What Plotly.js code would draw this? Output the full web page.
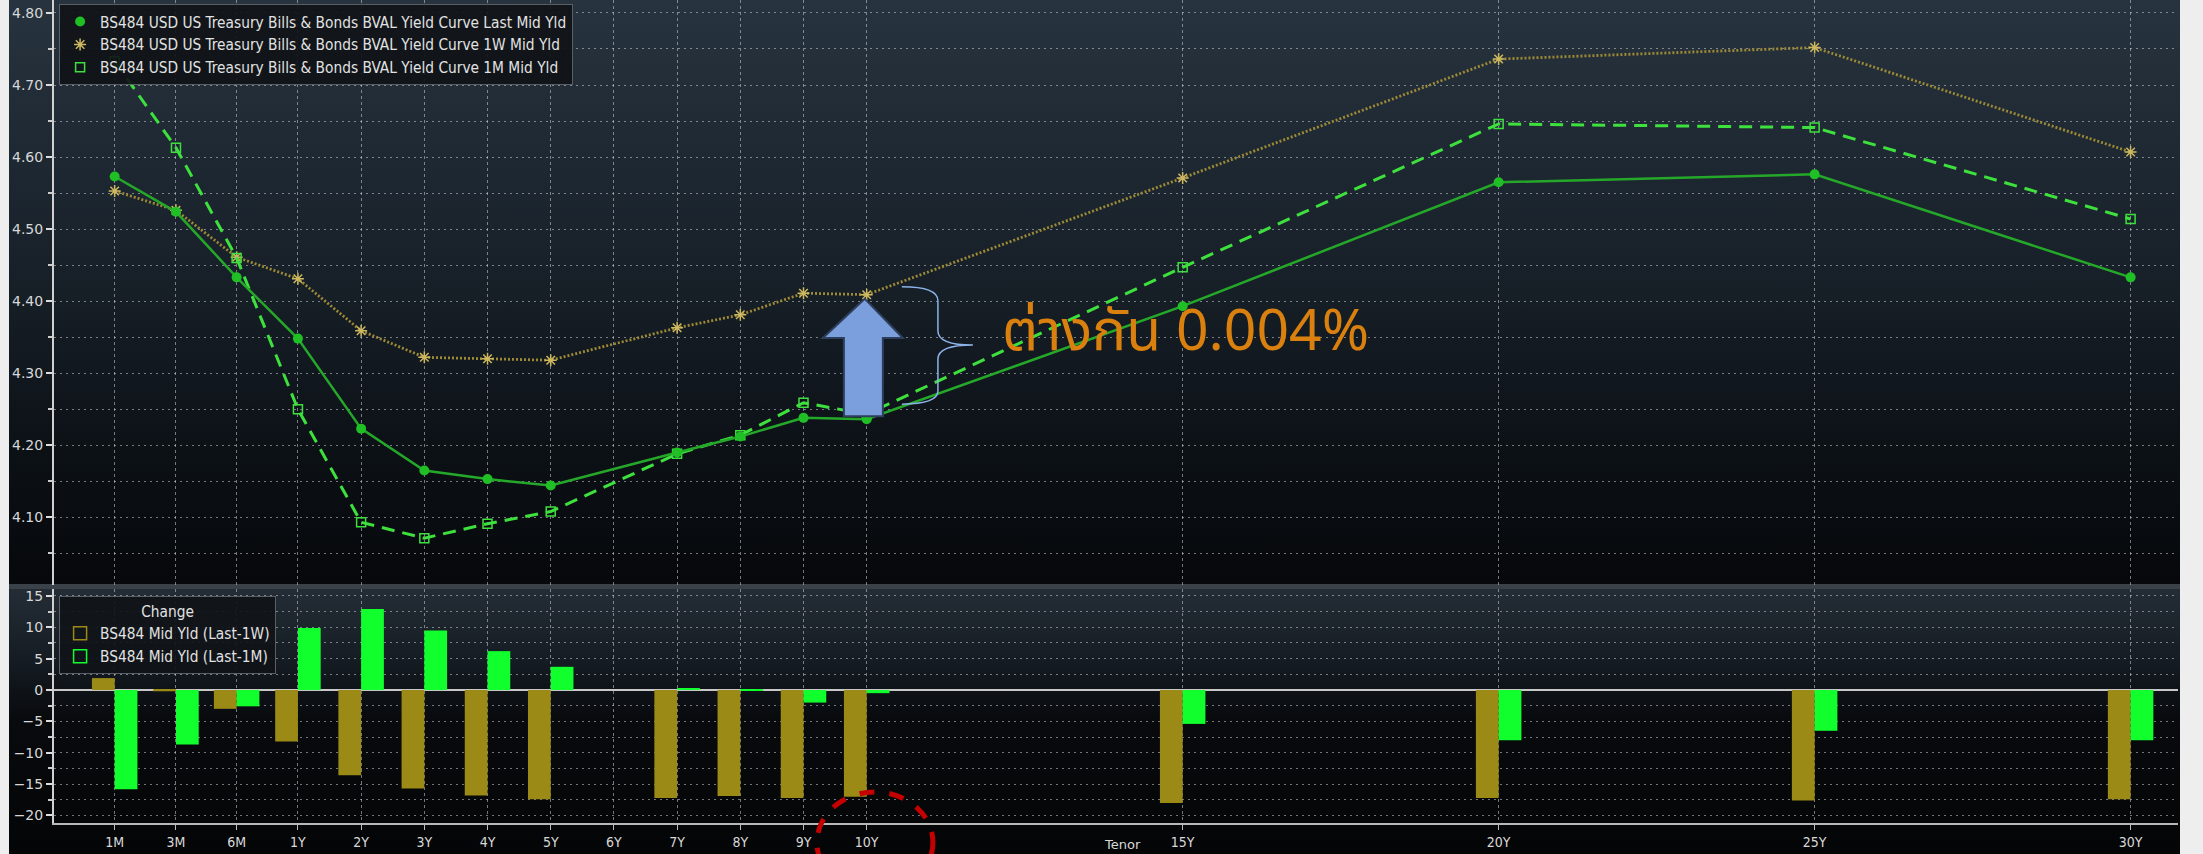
<!DOCTYPE html>
<html>
<head>
<meta charset="utf-8">
<script src="https://cdn.plot.ly/plotly-3.0.1.min.js"></script>
<style>
  html, body { margin:0; padding:0; width:2203px; height:854px; overflow:hidden; background:#eeeeee; }
  #bg { position:absolute; left:9px; top:0; width:2171px; height:854px;
        background: linear-gradient(to bottom,
          #27333e 0px, #19222b 250px, #0c1116 450px, #06080b 584px,
          #3a4149 584px, #3a4149 589px,
          #242d36 589px, #151c23 660px, #080a0d 720px, #040506 854px); }
  #chart { position:absolute; left:0; top:0; width:2203px; height:854px; }
</style>
</head>
<body>
<div id="bg"></div>
<div id="chart"></div>
<script>
// ---- data ----
const tenors   = ['1M','3M','6M','1Y','2Y','3Y','4Y','5Y','7Y','8Y','9Y','10Y','15Y','20Y','25Y','30Y'];
const tenorPos = [-1.9,-0.93,0.03,1,2,3,4,5,7,8,9,10,15,20,25,30];
const tickLabels = ['1M','3M','6M','1Y','2Y','3Y','4Y','5Y','6Y','7Y','8Y','9Y','10Y','15Y','20Y','25Y','30Y'];
const tickPos    = [-1.9,-0.93,0.03,1,2,3,4,5,6,7,8,9,10,15,20,25,30];

const yldLast = [4.573,4.524,4.433,4.348,4.223,4.165,4.153,4.144,4.190,4.212,4.238,4.236,4.393,4.565,4.576,4.433];
const yld1W   = [4.553,4.526,4.461,4.431,4.359,4.322,4.320,4.318,4.363,4.381,4.411,4.409,4.571,4.736,4.752,4.607];
const yld1M   = [4.733,4.613,4.460,4.250,4.093,4.071,4.091,4.108,4.188,4.214,4.259,4.243,4.447,4.646,4.641,4.514];

const chgLast1W = [1.9,-0.2,-3.0,-8.2,-13.6,-15.7,-16.8,-17.4,-17.2,-16.9,-17.2,-17.0,-18.0,-17.2,-17.6,-17.4];
const chgLast1M = [-15.8,-8.7,-2.6,9.9,12.9,9.5,6.2,3.7,0.3,-0.1,-2.0,-0.5,-5.4,-8.0,-6.5,-8.0];

const nameLast = 'BS484 USD US Treasury Bills & Bonds BVAL Yield Curve Last Mid Yld';
const name1W   = 'BS484 USD US Treasury Bills & Bonds BVAL Yield Curve 1W Mid Yld';
const name1M   = 'BS484 USD US Treasury Bills & Bonds BVAL Yield Curve 1M Mid Yld';
const nameC1W  = 'BS484 Mid Yld (Last-1W)';
const nameC1M  = 'BS484 Mid Yld (Last-1M)';
const noteText = 'ต่างกัน 0.004%';

// ---- styles ----
const cLast = '#25a82a', cLastM = '#1fbf25';
const c1W = '#9c8a36', c1WM = '#cdb860';
const c1M = '#3ee03e';
const cBarW = '#9b8a16', cBarM = '#12ff2e';
const gridC = 'rgba(205,210,215,0.55)';
const labC = '#d8d8d8';

const traces = [
  {x: tenorPos, y: yld1W, customdata: tenors, xaxis:'x', yaxis:'y', type:'scatter', mode:'lines+markers',
   line:{color:c1W, width:2.8, dash:'2px,2px'}, marker:{symbol:'asterisk-open', size:10, color:c1WM, line:{color:c1WM, width:1.5}},
   showlegend:false, name:name1W, hovertemplate:'%{customdata}: %{y:.3f}<extra></extra>'},
  {x: tenorPos, y: yld1M, customdata: tenors, xaxis:'x', yaxis:'y', type:'scatter', mode:'lines+markers',
   line:{color:c1M, width:3, dash:'13px,8px'}, marker:{symbol:'square-open', size:9, color:c1M, line:{color:c1M, width:1.5}},
   showlegend:false, name:name1M, hovertemplate:'%{customdata}: %{y:.3f}<extra></extra>'},
  {x: tenorPos, y: yldLast, customdata: tenors, xaxis:'x', yaxis:'y', type:'scatter', mode:'lines+markers',
   line:{color:cLast, width:2.5}, marker:{symbol:'circle', size:10, color:cLastM},
   showlegend:false, name:nameLast, hovertemplate:'%{customdata}: %{y:.3f}<extra></extra>'},
  // legend-only entries (top)
  {x:[null], y:[null], xaxis:'x', yaxis:'y', mode:'markers', name:nameLast, legend:'legend',
   marker:{symbol:'circle', size:10, color:cLastM}},
  {x:[null], y:[null], xaxis:'x', yaxis:'y', mode:'markers', name:name1W, legend:'legend',
   marker:{symbol:'asterisk-open', size:10, color:c1WM, line:{color:c1WM, width:1.5}}},
  {x:[null], y:[null], xaxis:'x', yaxis:'y', mode:'markers', name:name1M, legend:'legend',
   marker:{symbol:'square-open', size:9, color:c1M, line:{color:c1M, width:1.5}}},
  // bars
  {x: tenorPos, y: chgLast1W, customdata: tenors, xaxis:'x', yaxis:'y2', type:'bar', width:0.36, offset:-0.36,
   marker:{color:cBarW, line:{width:0}}, showlegend:false, name:nameC1W, hovertemplate:'%{customdata}: %{y:.1f}<extra></extra>'},
  {x: tenorPos, y: chgLast1M, customdata: tenors, xaxis:'x', yaxis:'y2', type:'bar', width:0.36, offset:0,
   marker:{color:cBarM, line:{width:0}}, showlegend:false, name:nameC1M, hovertemplate:'%{customdata}: %{y:.1f}<extra></extra>'},
  {x:[null], y:[null], xaxis:'x', yaxis:'y2', mode:'markers', name:nameC1W, legend:'legend2',
   marker:{symbol:'square-open', size:13, color:cBarW, line:{color:cBarW, width:1.5}}},
  {x:[null], y:[null], xaxis:'x', yaxis:'y2', mode:'markers', name:nameC1M, legend:'legend2',
   marker:{symbol:'square-open', size:13, color:cBarM, line:{color:cBarM, width:1.5}}}
];

const legFont = {family:'DejaVu Sans Condensed, DejaVu Sans, sans-serif', size:15.3, color:'#e2e2e2'};

const layout = {
  width:2203, height:854,
  margin:{l:54, r:25, t:0, b:31, pad:0},
  paper_bgcolor:'rgba(0,0,0,0)', plot_bgcolor:'rgba(0,0,0,0)',
  barmode:'overlay',
  hovermode:'closest',
  xaxis:{domain:[0,1], range:[-2.86,30.75], anchor:'y2', tickmode:'array', tickvals:tickPos, ticktext:tickLabels,
    showgrid:true, gridcolor:gridC, griddash:'3px,3px', gridwidth:1, zeroline:false,
    ticks:'outside', ticklen:5, tickcolor:'#bbbbbb', showline:true, linecolor:'#b8b8b8', linewidth:2,
    tickfont:{family:'DejaVu Sans Condensed, DejaVu Sans, sans-serif', size:14, color:labC}},
  yaxis:{domain:[0.2892,1], range:[4.006,4.818], tick0:4.1, dtick:0.1, tickformat:'.2f', anchor:'x',
    showgrid:true, gridcolor:gridC, griddash:'2px,4px', gridwidth:1, zeroline:false,
    minor:{dtick:0.05, tick0:4.05, showgrid:true, gridcolor:gridC, griddash:'2px,4px', ticks:'outside', ticklen:4, tickcolor:'#cccccc'},
    ticks:'outside', ticklen:6, tickwidth:1.5, tickcolor:'#dddddd', showline:true, linecolor:'#d0d0d0', linewidth:2,
    tickfont:{family:'DejaVu Sans, sans-serif', size:14, color:labC}},
  yaxis2:{domain:[0,0.2843], range:[-21.2,16.1], tick0:0, dtick:5, anchor:'x',
    showgrid:true, gridcolor:gridC, griddash:'2px,4px', gridwidth:1,
    zeroline:true, zerolinecolor:'#c8c8c8', zerolinewidth:2,
    minor:{dtick:2.5, showgrid:true, gridcolor:gridC, griddash:'2px,4px', ticks:'outside', ticklen:4, tickcolor:'#cccccc'},
    ticks:'outside', ticklen:6, tickwidth:1.5, tickcolor:'#dddddd', showline:true, linecolor:'#d0d0d0', linewidth:2,
    tickfont:{family:'DejaVu Sans, sans-serif', size:14, color:labC}},
  legend:{x:0.0024, y:0.995, xanchor:'left', yanchor:'top', bgcolor:'rgba(16,20,24,0.92)', bordercolor:'#5a5f66', borderwidth:1,
    font:legFont, itemwidth:30, tracegroupgap:0},
  legend2:{x:0.0024, y:0.2758, xanchor:'left', yanchor:'top', bgcolor:'rgba(16,20,24,0.92)', bordercolor:'#5a5f66', borderwidth:1,
    font:legFont, itemwidth:30, title:{text:'Change', side:'top center', font:legFont}},
  shapes:[
    // blue up arrow
    {type:'path', xref:'x', yref:'y', layer:'above',
     path:'M 9.97 4.4032 L 10.573 4.3489 L 10.256 4.3489 L 10.256 4.2403 L 9.639 4.2403 L 9.639 4.3489 L 9.307 4.3489 Z',
     fillcolor:'#7b9fdc', line:{color:'#2e3f5e', width:2}},
    // brace
    {type:'path', xref:'x', yref:'y', layer:'above',
     path:'M 10.557 4.4199 Q 11.127 4.4199 11.127 4.4005 L 11.127 4.3587 Q 11.127 4.3392 11.680 4.3392 Q 11.127 4.3392 11.127 4.3196 L 11.127 4.2751 Q 11.127 4.2570 10.557 4.2570',
     line:{color:'#8db3ea', width:1.5}},
    // red dashed circle around 10Y label
    {type:'circle', xref:'paper', yref:'paper', layer:'above',
     x0:0.3592, x1:0.4138, y0:-0.085, y1:0.0377,
     line:{color:'#c40000', width:5, dash:'dash'}}
  ],
  annotations:[
    {xref:'x', yref:'y', x:12.11, y:4.363, xanchor:'left', yanchor:'middle', showarrow:false,
     text:noteText, font:{family:'Noto Sans, Noto Sans Thai, Tahoma, sans-serif', size:57, color:'#d9800f'}},
    {xref:'paper', yref:'paper', x:0.503, y:-0.0377, xanchor:'center', yanchor:'bottom', showarrow:false,
     text:'Tenor', font:{family:'DejaVu Sans, sans-serif', size:13, color:labC}}
  ]
};

Plotly.newPlot('chart', traces, layout, {displayModeBar:false});
</script>
</body>
</html>
